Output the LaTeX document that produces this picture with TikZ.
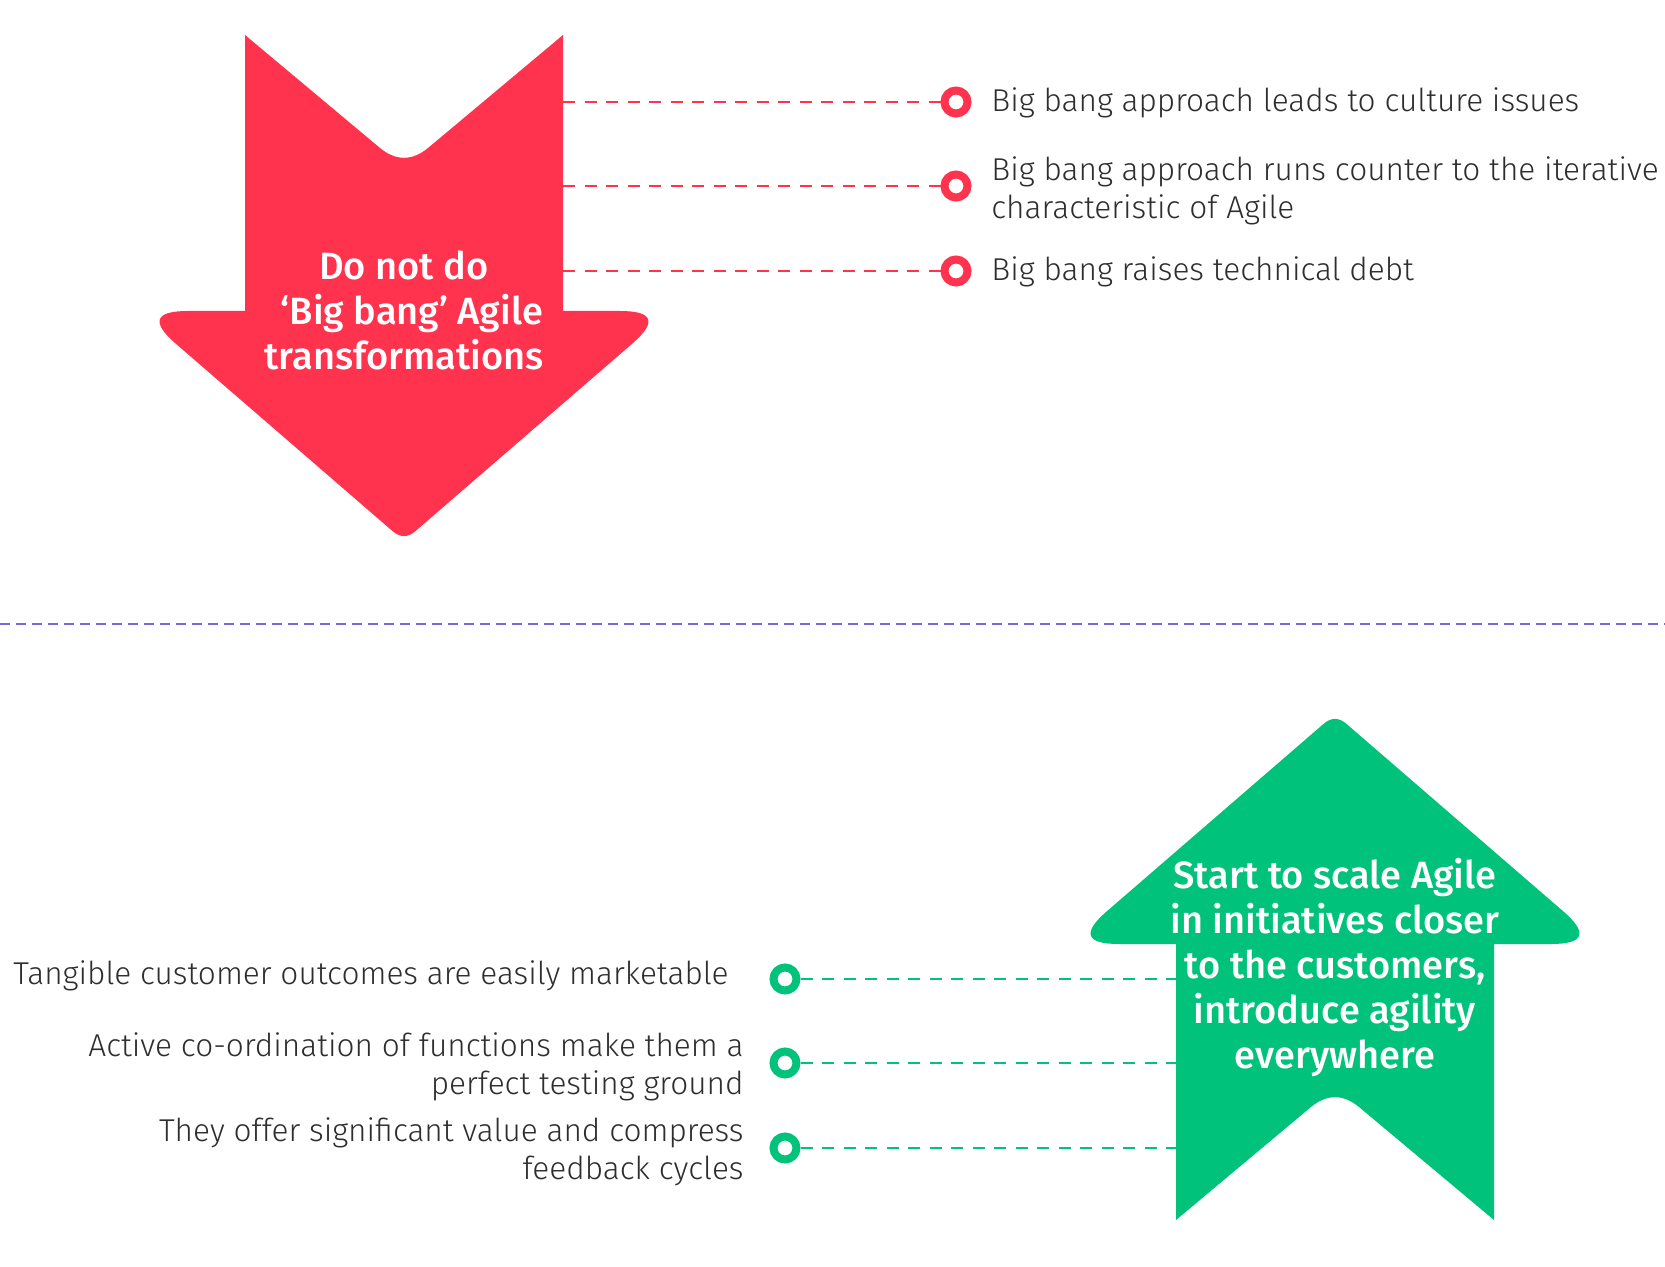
\documentclass[tikz,border=0pt]{standalone}
\usepackage{fontspec}
\setmainfont{Fira Sans}[UprightFont=* Light, BoldFont=* Medium]
\definecolor{cred}{HTML}{FF334D}
\definecolor{cgreen}{HTML}{00C27A}
\definecolor{cpurple}{HTML}{7B68DB}
\definecolor{ctext}{HTML}{2E2E2E}
\newcommand\myarrowpath{(-159,0) -- (-24,113) .. controls (-8,126.1) and (8,126.1) .. (24,113) -- (159,0) -- (159,276) -- (216,276) .. controls (249.3,276) and (253.4,286.9) .. (228.2,308.7) -- (11.35,496.2) .. controls (3.8,502.7) and (-3.8,502.7) .. (-11.35,496.2) -- (-228.2,308.7) .. controls (-253.4,286.9) and (-249.3,276) .. (-216,276) -- (-159,276) -- cycle}
\tikzset{
  bigtext/.style={text=white, align=center, font=\bfseries\fontsize{19}{22.5}\selectfont, inner sep=0pt},
  itemtext/.style={text=ctext, font=\fontsize{15.8}{18.7}\selectfont, inner sep=0pt},
  ring/.style={circle, draw=#1, fill=white, line width=4pt, minimum size=11.5pt, inner sep=0pt},
  link/.style={draw=#1, line width=1pt, dash pattern=on 6pt off 4.75pt},
}
\begin{document}
\begin{tikzpicture}[x=0.5pt,y=-0.5pt]
\useasboundingbox (0,0) rectangle (1665,1267);
% red arrow
\begin{scope}[shift={(404,35)}]
  \fill[cred] \myarrowpath;
\end{scope}
\node[bigtext] (redlabel) at (404,310) {Do not do\\\hspace*{8pt}‘Big bang’ Agile\\transformations};
% green arrow
\begin{scope}[shift={(1335,1220)}, yscale=-1]
  \fill[cgreen] \myarrowpath;
\end{scope}
\node[bigtext] (greenlabel) at (1335,967) {Start to scale Agile\\in initiatives closer\\to the customers,\\introduce agility\\everywhere};
% separator
\coordinate (sepL) at (0,624);
\coordinate (sepR) at (1665,624);
\draw[cpurple, line width=1pt, dash pattern=on 5pt off 3pt] (sepL) -- (sepR);
% red items
\coordinate (r1) at (563,102);
\coordinate (r2) at (563,186);
\coordinate (r3) at (563,271);
\node[ring=cred] (c1) at (956,102) {};
\node[ring=cred] (c2) at (956,186) {};
\node[ring=cred] (c3) at (956,271) {};
\draw[link=cred] (r1) -- (c1);
\draw[link=cred] (r2) -- (c2);
\draw[link=cred] (r3) -- (c3);
\node[itemtext, anchor=west] (t1) at (991,103) {Big bang approach leads to culture issues};
\node[itemtext, anchor=west, align=left] (t2) at (991,191) {Big bang approach runs counter to the iterative\\characteristic of Agile};
\node[itemtext, anchor=west] (t3) at (991,272) {Big bang raises technical debt};
% green items
\coordinate (g1) at (1176,979);
\coordinate (g2) at (1176,1063);
\coordinate (g3) at (1176,1148);
\node[ring=cgreen] (c4) at (785,979) {};
\node[ring=cgreen] (c5) at (785,1063) {};
\node[ring=cgreen] (c6) at (785,1148) {};
\draw[link=cgreen] (c4) -- (g1);
\draw[link=cgreen] (c5) -- (g2);
\draw[link=cgreen] (c6) -- (g3);
\node[itemtext, anchor=east] (t4) at (729,976) {Tangible customer outcomes are easily marketable};
\node[itemtext, anchor=east, align=right] (t5) at (744,1067) {Active co-ordination of functions make them a\\perfect testing ground};
\node[itemtext, anchor=east, align=right] (t6) at (744,1152) {They offer significant value and compress\\feedback cycles};
\end{tikzpicture}
\end{document}
